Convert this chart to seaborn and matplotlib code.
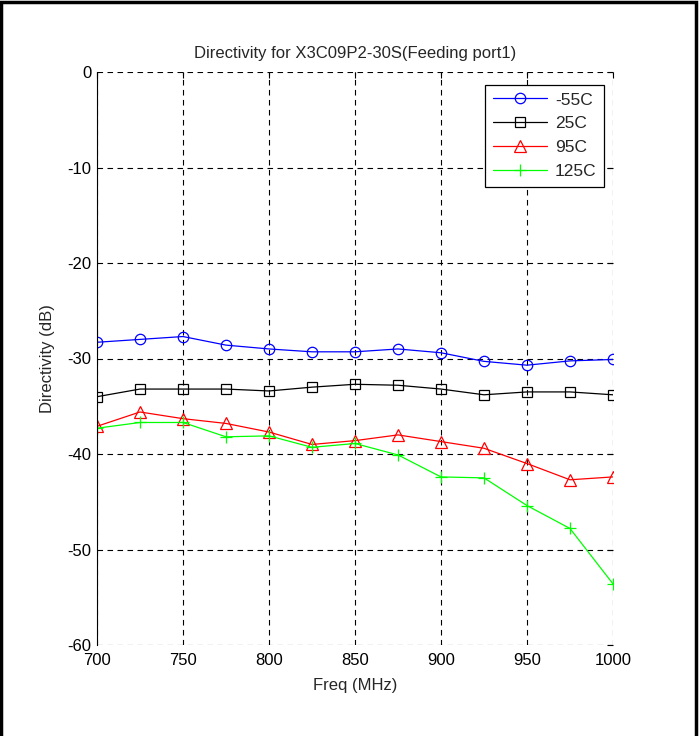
import numpy as np
import pandas as pd
import matplotlib
matplotlib.use("Agg")
import matplotlib.pyplot as plt
import seaborn as sns
from matplotlib.patches import Rectangle

freq = [700, 725, 750, 775, 800, 825, 850, 875, 900, 925, 950, 975, 1000]
d_m55 = [-28.3, -28.0, -27.7, -28.6, -29.0, -29.3, -29.3, -29.0, -29.4, -30.3, -30.7, -30.25, -30.1]
d_25 = [-34.0, -33.2, -33.2, -33.2, -33.4, -33.0, -32.7, -32.8, -33.2, -33.8, -33.5, -33.5, -33.8]
d_95 = [-37.1, -35.6, -36.3, -36.8, -37.7, -39.0, -38.6, -38.0, -38.7, -39.4, -41.0, -42.7, -42.4]
d_125 = [-37.3, -36.7, -36.7, -38.2, -38.1, -39.3, -38.9, -40.1, -42.4, -42.5, -45.4, -47.8, -53.6]
temps = ['-55C', '25C', '95C', '125C']

df = pd.DataFrame({'freq': freq * 4,
                   'dir': d_m55 + d_25 + d_95 + d_125,
                   'temp': [t for t in temps for _ in freq]})

sns.set_style("white")
plt.rcParams['font.family'] = ['Liberation Sans', 'DejaVu Sans']
plt.rcParams['axes.unicode_minus'] = False

fig = plt.figure(figsize=(7, 7.36), dpi=100)
ax = fig.add_axes([97/700, 1 - 645/736, (613 - 97)/700, (645 - 72)/736])

colors = {'-55C': '#0000ff', '25C': '#000000', '95C': '#ff0000', '125C': '#00ff00'}
markers = {'-55C': 'o', '25C': 's', '95C': '^', '125C': '+'}
msize = {'-55C': 7.5, '25C': 7, '95C': 8.5, '125C': 9}
for t in temps:
    sub = df[df['temp'] == t]
    sns.lineplot(data=sub, x='freq', y='dir', color=colors[t], marker=markers[t],
                 markersize=msize[t], linewidth=0.9, markerfacecolor='none',
                 markeredgecolor=colors[t], markeredgewidth=0.9, ax=ax, label=t)

ax.set_xlim(700, 1000)
ax.set_ylim(-60, 0)
ax.set_xticks(range(700, 1001, 50))
ax.set_yticks(range(-60, 1, 10))
ax.grid(True, color='black', linestyle=(0, (5, 4)), linewidth=0.8)
for s in ['top', 'right', 'bottom']:
    ax.spines[s].set_visible(False)
ax.spines['left'].set_color('black')
ax.spines['left'].set_linewidth(0.8)
ax.tick_params(direction='in', top=True, right=True, length=4, width=0.8,
               labelsize=12, colors='black')
ax.tick_params(axis='x', pad=6)
ax.tick_params(axis='y', pad=4)
ax.set_xlabel('Freq (MHz)', fontsize=12, labelpad=7)
ax.set_ylabel('Directivity (dB)', fontsize=12, labelpad=9)
ax.set_title('Directivity for X3C09P2-30S(Feeding port1)', fontsize=12, pad=10)

leg = ax.legend(loc='upper right', bbox_to_anchor=(0.983, 0.978), fontsize=12.5,
                frameon=True, fancybox=False, edgecolor='black', framealpha=1,
                handlelength=3.1, borderpad=0.45, labelspacing=0.5, handletextpad=0.45,
                borderaxespad=0)
leg.get_frame().set_linewidth(0.9)

fig.patches.append(Rectangle((1/700, -0.05), 695/700, 1.05 - 1.5/736, transform=fig.transFigure,
                             fill=False, edgecolor='black', linewidth=2.5))

fig.savefig('out.png', dpi=100, facecolor='white')
